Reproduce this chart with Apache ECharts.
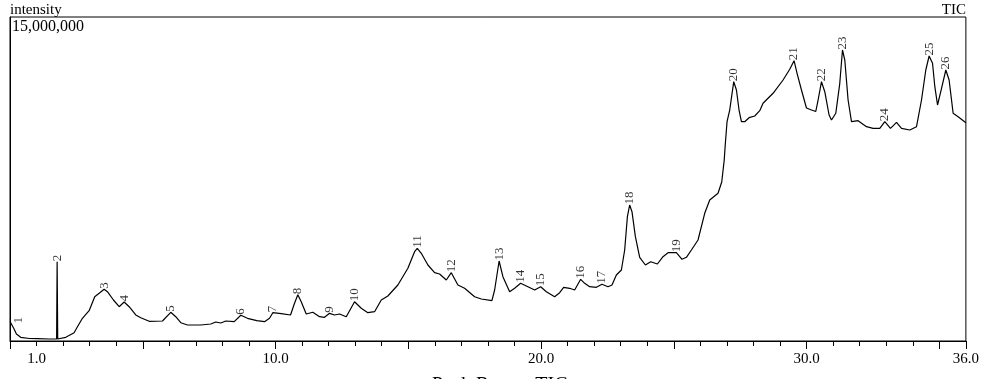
<!DOCTYPE html>
<html><head><meta charset="utf-8">
<script src="https://cdn.jsdelivr.net/npm/echarts@6/dist/echarts.min.js"></script>
<style>html,body{margin:0;padding:0;background:#fff;}#c{width:982px;height:379px;}</style>
</head><body><div id="c"></div>
<script>
const times = [0.000,0.053,0.154,0.241,0.403,0.731,1.032,1.485,1.756,1.775,1.797,1.812,2.099,2.415,2.540,2.728,2.980,3.191,3.357,3.546,3.670,3.896,4.111,4.299,4.488,4.736,4.925,5.241,5.742,6.055,6.243,6.432,6.684,7.185,7.562,7.751,7.939,8.127,8.444,8.693,8.945,9.295,9.585,9.774,9.898,10.215,10.565,10.716,10.840,10.968,11.157,11.405,11.658,11.846,12.035,12.223,12.411,12.664,12.977,13.229,13.478,13.730,13.983,14.231,14.608,14.985,15.237,15.339,15.490,15.739,15.991,16.179,16.432,16.620,16.869,17.121,17.498,17.750,18.150,18.252,18.421,18.564,18.817,19.005,19.231,19.506,19.759,19.985,20.200,20.513,20.701,20.852,21.078,21.266,21.492,21.643,21.831,22.084,22.295,22.521,22.672,22.837,23.026,23.150,23.252,23.338,23.425,23.553,23.715,23.930,24.130,24.382,24.593,24.782,25.098,25.309,25.475,25.663,25.912,26.164,26.353,26.665,26.805,26.899,26.937,27.005,27.106,27.257,27.359,27.457,27.547,27.671,27.834,28.048,28.237,28.361,28.738,29.115,29.367,29.529,29.642,29.808,29.996,30.185,30.347,30.434,30.562,30.686,30.848,30.939,31.101,31.251,31.353,31.440,31.564,31.692,31.941,32.257,32.506,32.758,32.947,33.161,33.387,33.576,33.888,34.141,34.329,34.491,34.616,34.744,34.831,34.933,35.083,35.245,35.369,35.520,35.708,36.000];
const intensities = [903000,880000,556000,324000,171000,116000,106000,93000,93000,3671000,93000,116000,171000,384000,662000,1051000,1403000,2051000,2208000,2394000,2282000,1898000,1588000,1806000,1588000,1204000,1079000,912000,926000,1329000,1125000,847000,741000,741000,787000,880000,833000,926000,894000,1190000,1051000,940000,894000,1051000,1310000,1264000,1204000,1745000,2144000,1819000,1250000,1329000,1125000,1097000,1282000,1204000,1250000,1125000,1819000,1514000,1310000,1356000,1898000,2083000,2593000,3366000,4134000,4292000,4060000,3518000,3162000,3102000,2824000,3162000,2593000,2440000,2051000,1944000,1866000,2361000,3704000,2977000,2282000,2440000,2671000,2514000,2361000,2514000,2282000,2051000,2236000,2486000,2440000,2361000,2856000,2671000,2514000,2486000,2625000,2514000,2593000,3056000,3287000,4213000,5755000,6296000,5986000,4829000,3875000,3518000,3671000,3565000,3903000,4088000,4088000,3782000,3875000,4213000,4676000,5912000,6528000,6838000,7361000,8380000,9074000,10153000,10694000,12005000,11620000,10694000,10153000,10153000,10338000,10417000,10662000,11005000,11468000,12083000,12579000,12977000,12393000,11620000,10787000,10694000,10625000,11157000,12005000,11542000,10463000,10231000,10542000,11930000,13472000,13009000,11157000,10153000,10199000,9921000,9847000,9847000,10153000,9847000,10125000,9847000,9768000,9921000,11157000,12546000,13194000,12856000,11773000,10926000,11699000,12546000,12083000,10542000,10384000,10106000];
const peakNumbers = ['1','2','3','4','5','6','7','8','9','10','11','12','13','14','15','16','17','18','19','20','21','22','23','24','25','26'];
const peakTimes = [0.305,1.775,3.546,4.299,6.055,8.693,9.898,10.840,12.035,12.977,15.339,16.620,18.421,19.231,19.985,21.492,22.295,23.338,25.098,27.257,29.529,30.562,31.353,32.947,34.616,35.245];
const peakIntensities = [787000,3671000,2394000,1806000,1329000,1190000,1310000,2144000,1282000,1819000,4292000,3162000,3704000,2671000,2514000,2856000,2625000,6296000,4088000,12005000,12977000,12005000,13472000,10153000,13194000,12546000];
const xTickLabels = [1, 10, 20, 30, 36];
const yMax = 15000000;
const xMin = 0, xMax = 36;

const FONT = '"Liberation Serif", "DejaVu Serif", serif';
const chart = echarts.init(document.getElementById('c'), null, {renderer: 'canvas'});
chart.setOption({
  animation: false,
  backgroundColor: '#fff',
  grid: {left: 10, right: 16, top: 17, bottom: 38, show: true, borderColor: '#000', borderWidth: 1, backgroundColor: 'transparent'},
  xAxis: [{
    type: 'value', min: xMin, max: xMax, interval: 1, position: 'bottom',
    axisLine: {show: true, lineStyle: {color: '#000', width: 1}},
    axisTick: {show: true, length: 5, lineStyle: {color: '#000'}},
    splitLine: {show: false},
    axisLabel: {
      show: true, margin: 11, color: '#000', fontFamily: FONT, fontSize: 15,
      showMinLabel: true, showMaxLabel: true,
      formatter: v => xTickLabels.indexOf(Math.round(v)) >= 0 && Math.abs(v - Math.round(v)) < 1e-6 ? v.toFixed(1) : ''
    }
  }, {
    type: 'value', min: xMin, max: xMax, interval: 5, position: 'bottom',
    axisLine: {show: false},
    axisTick: {show: true, length: 8, lineStyle: {color: '#000'}},
    axisLabel: {show: false},
    splitLine: {show: false}
  }],
  yAxis: {
    type: 'value', min: 0, max: yMax,
    axisLine: {show: true, lineStyle: {color: '#000'}},
    axisTick: {show: false}, axisLabel: {show: false}, splitLine: {show: false}
  },
  series: [{
    type: 'line', xAxisIndex: 0, symbol: 'none', smooth: false,
    lineStyle: {color: '#000', width: 1.2},
    data: times.map((t, i) => [t, intensities[i]]),
    z: 2
  }, {
    type: 'scatter', xAxisIndex: 0, symbolSize: 1, itemStyle: {color: 'rgba(0,0,0,0)'},
    label: {
      show: true, position: 'top', distance: 0, rotate: 90, align: 'left', verticalAlign: 'middle',
      color: '#000', fontFamily: FONT, fontSize: 13,
      formatter: p => p.name
    },
    labelLayout: {hideOverlap: false},
    data: peakTimes.map((t, i) => ({name: peakNumbers[i], value: [t, peakIntensities[i]]})),
    z: 3
  }],
  graphic: [
    {type: 'text', left: 10, top: 3, style: {text: 'intensity', font: '15px ' + FONT, fill: '#000'}},
    {type: 'text', right: 16, top: 3, style: {text: 'TIC', font: '15px ' + FONT, fill: '#000'}},
    {type: 'text', left: 12, top: 19, style: {text: yMax.toLocaleString('en-US'), font: '16px ' + FONT, fill: '#000'}},
    {type: 'text', left: 432, top: 375.5, style: {text: 'Peak Report TIC', font: '20px ' + FONT, fill: '#000'}}
  ]
});
</script>
</body></html>
